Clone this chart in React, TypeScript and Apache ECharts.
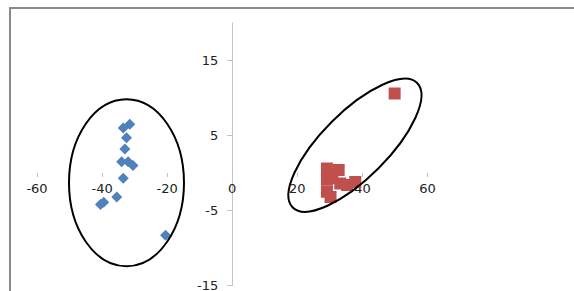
import React, { useEffect, useRef } from "react";
import * as echarts from "echarts";

// Series 1 (blue diamonds)
const blueX = [-33.5, -31.5, -32.5, -33, -34, -32, -30.5, -33.5, -35.5, -40.5, -39.5, -20.5];
const blueY = [6.0, 6.5, 4.7, 3.2, 1.5, 1.5, 1.0, -0.7, -3.2, -4.2, -3.9, -8.3];

// Series 2 (red squares)
const redX = [49.9, 29.1, 32.7, 29.1, 30.8, 33.2, 35.3, 37.8, 29.1, 30.2];
const redY = [10.6, 0.6, 0.4, -0.9, -0.7, -1.4, -1.6, -1.2, -2.5, -3.2];

// Axis ticks
const xTicks = [-60, -40, -20, 0, 20, 40, 60];
const yTicks = [-15, -5, 5, 15];
const yMin = -15;
const yMax = 20;

// Ellipse annotation centres (data units)
const ellipseCentres = [
  [-32.5, -1.3],
  [37.7, 3.7],
];

const ellipseShapes = [
  { rx: 57.5, ry: 83.5, rotation: 0 },
  { rx: 88, ry: 33, rotation: Math.PI / 4 },
];

const W = 574;
const H = 291;
const G = { left: 37, right: 146.5, top: 23, bottom: 5.5 };

export default function App() {
  const ref = useRef<HTMLDivElement>(null);
  useEffect(() => {
    if (!ref.current) return;
    const chart = echarts.init(ref.current, null, { renderer: "svg" });
    const font = "DejaVu Sans";
    const xMin = xTicks[0];
    const xMax = xTicks[xTicks.length - 1];
    const gw = W - G.left - G.right;
    const gh = H - G.top - G.bottom;
    // move axes so that they cross at zero
    const xAxisOffset = -((0 - yMin) / (yMax - yMin)) * gh;
    const yAxisOffset = -((0 - xMin) / (xMax - xMin)) * gw;
    chart.setOption({
      animation: false,
      backgroundColor: "#ffffff",
      graphic: [
        {
          type: "rect",
          shape: { x: 10, y: 8, width: 700, height: 400 },
          style: { fill: "none", stroke: "#8a8a8a", lineWidth: 2 },
          z: 0,
          silent: true,
        },
      ],
      grid: {
        left: G.left,
        right: G.right,
        top: G.top,
        bottom: G.bottom,
        containLabel: false,
        outerBoundsMode: "none",
      },
      xAxis: {
        type: "value",
        position: "bottom",
        offset: xAxisOffset,
        min: xMin,
        max: xMax,
        interval: 20,
        axisLine: { show: false, onZero: false },
        axisTick: { show: true, length: 4, lineStyle: { color: "#bfbfbf" } },
        axisLabel: {
          margin: 9,
          fontFamily: font,
          fontSize: 13,
          color: "#222",
          customValues: xTicks,
        },
        splitLine: { show: false },
      },
      yAxis: {
        type: "value",
        position: "left",
        offset: yAxisOffset,
        min: yMin,
        max: yMax,
        axisLine: { show: true, onZero: false, lineStyle: { color: "#c4c4c4", width: 1 } },
        axisTick: { show: true, length: 5, lineStyle: { color: "#bfbfbf" }, customValues: yTicks },
        axisLabel: {
          margin: 14,
          fontFamily: font,
          fontSize: 13,
          color: "#222",
          customValues: yTicks,
        },
        splitLine: { show: false },
      },
      series: [
        {
          type: "scatter",
          symbol: "diamond",
          symbolSize: 11,
          itemStyle: { color: "#4f81bd", opacity: 1 },
          data: blueX.map((x, i) => [x, blueY[i]]),
          z: 3,
        },
        {
          type: "scatter",
          symbol: "rect",
          symbolSize: 12,
          itemStyle: { color: "#c0504d", opacity: 1 },
          data: redX.map((x, i) => [x, redY[i]]),
          z: 3,
        },
        {
          type: "custom",
          clip: false,
          z: 5,
          silent: true,
          data: ellipseCentres.map((c, i) => [c[0], c[1], i]),
          renderItem: (params: any, api: any) => {
            const c = api.coord([api.value(0), api.value(1)]);
            const s = ellipseShapes[api.value(2)];
            return {
              type: "ellipse",
              x: c[0],
              y: c[1],
              rotation: s.rotation,
              shape: { cx: 0, cy: 0, rx: s.rx, ry: s.ry },
              style: { fill: "none", stroke: "#000", lineWidth: 2 },
            };
          },
        },
      ],
    });
    return () => chart.dispose();
  }, []);
  return (
    <div
      ref={ref}
      style={{ position: "fixed", left: 0, top: 0, width: W, height: H }}
    />
  );
}
